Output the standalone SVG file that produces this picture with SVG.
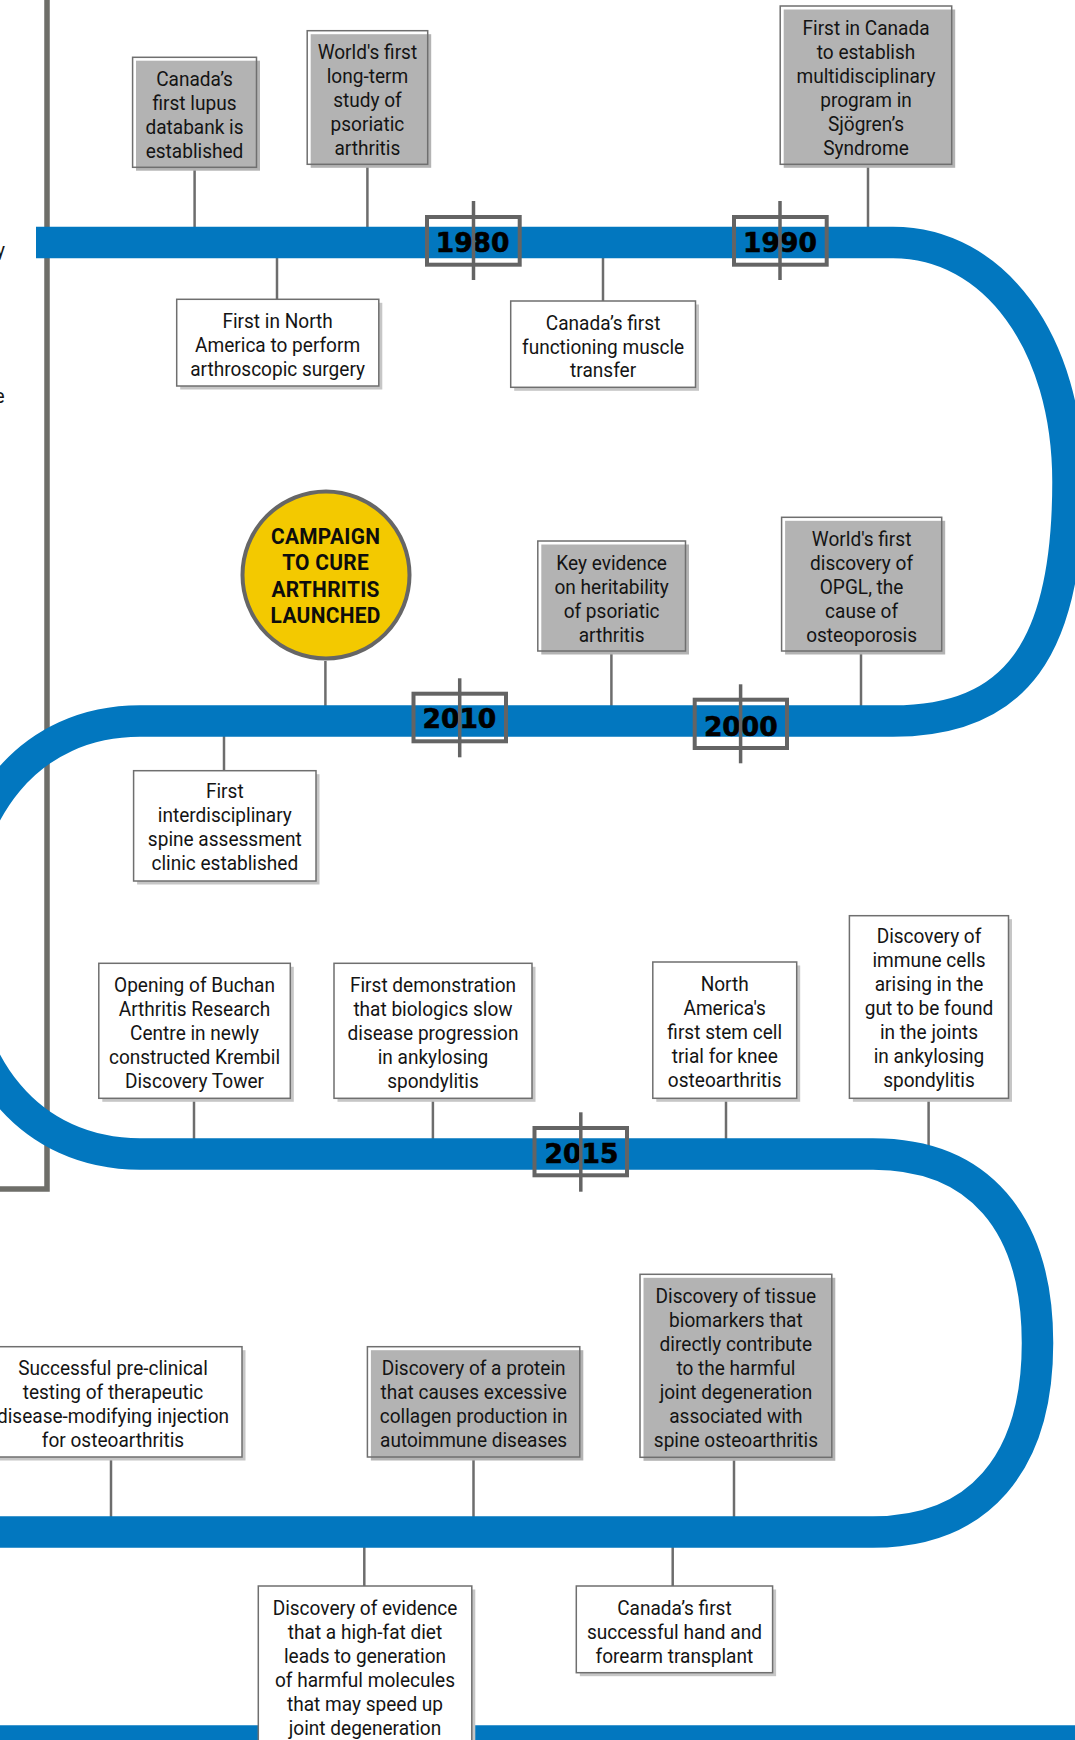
<svg xmlns="http://www.w3.org/2000/svg" width="1075" height="1740" viewBox="0 0 1075 1740">
<style>
.band{fill:none;stroke:#0277bf;stroke-width:31.5;stroke-linecap:butt;stroke-linejoin:round}
.bracket{fill:none;stroke:#6e6e69;stroke-width:5.5;stroke-linejoin:miter}
.conn{stroke:#6d6d6d;stroke-width:2.5;fill:none}
.gfill{fill:#b3b3b3}
.gline{fill:none;stroke:#6f6f6f;stroke-width:1.5}
.wshadow{fill:#c6c6c6}
.wbox{fill:#ffffff;stroke:#6f6f6f;stroke-width:1.5}
.t{font-family:Roboto,'Liberation Sans',sans-serif;font-size:20.5px;fill:#141414;text-anchor:middle}
.ct{font-family:Roboto,'Liberation Sans',sans-serif;font-size:22.5px;font-weight:bold;fill:#0d0d0d;text-anchor:middle;letter-spacing:0.3px}
.ybox{fill:none;stroke:#646464;stroke-width:4}
.tick{stroke:#646464;stroke-width:3.5}
.yt{font-family:'DejaVu Sans',sans-serif;font-size:26.5px;font-weight:bold;fill:#000;text-anchor:middle;stroke:#000;stroke-width:0.6}
.circle{fill:#f3c900;stroke:#666666;stroke-width:4}
</style>

<g id="bracket">
<polyline class="bracket" points="47,-5 47,1189 -5,1189"/>
<text class="t" style="text-anchor:end" transform="translate(5,0) scale(0.93,1)" x="0" y="257.5">y</text>
<text class="t" style="text-anchor:end" transform="translate(4.5,0) scale(0.93,1)" x="0" y="403">e</text>
</g>

<g id="connectors">
<line class="conn" x1="194.6" y1="167" x2="194.6" y2="240"/>
<line class="conn" x1="367.4" y1="164" x2="367.4" y2="240"/>
<line class="conn" x1="868" y1="164" x2="868" y2="240"/>
<line class="conn" x1="277" y1="245" x2="277" y2="299"/>
<line class="conn" x1="603" y1="245" x2="603" y2="301"/>
<line class="conn" x1="325.4" y1="661" x2="325.4" y2="715"/>
<line class="conn" x1="611.4" y1="651" x2="611.4" y2="715"/>
<line class="conn" x1="861" y1="651" x2="861" y2="715"/>
<line class="conn" x1="224" y1="728" x2="224" y2="771"/>
<line class="conn" x1="194" y1="1098" x2="194" y2="1150"/>
<line class="conn" x1="432.9" y1="1098" x2="432.9" y2="1150"/>
<line class="conn" x1="726" y1="1098" x2="726" y2="1150"/>
<line class="conn" x1="928.6" y1="1098" x2="928.6" y2="1160"/>
<line class="conn" x1="111" y1="1457" x2="111" y2="1525"/>
<line class="conn" x1="473.5" y1="1457" x2="473.5" y2="1525"/>
<line class="conn" x1="734" y1="1457" x2="734" y2="1525"/>
<line class="conn" x1="364.3" y1="1540" x2="364.3" y2="1586"/>
<line class="conn" x1="672.7" y1="1540" x2="672.7" y2="1586"/>
</g>

<g id="timeline">
<path class="band" d="M36,242.5 H893 C994.5,242.5 1068,343 1068,482 C1068,649.3 1015.5,721 893,721 H140 C30.8,721 -42,807.6 -42,937.5 C-42,1067.4 30.8,1154 140,1154 H873 C978.3,1154 1037.5,1222 1037.5,1343 C1037.5,1464 978.3,1532 873,1532 H-20"/>
<path class="band" d="M-20,1741 H1095"/>
</g>

<g id="y1980">
<rect class="ybox" x="427" y="217" width="92.7" height="47.7"/>
<text class="yt" x="472.6" y="252.3">1980</text>
<line class="tick" x1="473.5" y1="201" x2="473.5" y2="280"/>
</g>
<g id="y1990">
<rect class="ybox" x="734" y="217" width="92.7" height="47.7"/>
<text class="yt" x="780" y="252.3">1990</text>
<line class="tick" x1="780" y1="201" x2="780" y2="280"/>
</g>
<g id="y2010">
<rect class="ybox" x="413.5" y="693.7" width="92.5" height="47.6"/>
<text class="yt" x="459.4" y="728.3">2010</text>
<line class="tick" x1="459.7" y1="678.3" x2="459.7" y2="757.3"/>
</g>
<g id="y2000">
<rect class="ybox" x="694.7" y="699.7" width="92.3" height="48.3"/>
<text class="yt" x="740.8" y="736">2000</text>
<line class="tick" x1="740.6" y1="684.3" x2="740.6" y2="763.3"/>
</g>
<g id="y2015">
<rect class="ybox" x="534.5" y="1128" width="92.5" height="47.3"/>
<text class="yt" x="581.5" y="1163.3">2015</text>
<line class="tick" x1="580.8" y1="1112.3" x2="580.8" y2="1191.7"/>
</g>

<g id="n-lupus">
<rect class="gfill" x="136" y="60.7" width="124" height="110"/>
<rect class="gline" x="132.6" y="57.3" width="123.9" height="110"/>
<text class="t" transform="translate(194.5,0) scale(0.93,1)"><tspan x="0" y="86">Canada’s</tspan><tspan x="0" y="110">first lupus</tspan><tspan x="0" y="134">databank is</tspan><tspan x="0" y="158">established</tspan></text>
</g>

<g id="n-psoriatic-study">
<rect class="gfill" x="310.7" y="34.2" width="120.5" height="133.6"/>
<rect class="gline" x="307.2" y="30.7" width="120.5" height="133.6"/>
<text class="t" transform="translate(367.4,0) scale(0.93,1)"><tspan x="0" y="59.3">World's first</tspan><tspan x="0" y="83.3">long-term</tspan><tspan x="0" y="107.3">study of</tspan><tspan x="0" y="131.3">psoriatic</tspan><tspan x="0" y="155.3">arthritis</tspan></text>
</g>

<g id="n-sjogren">
<rect class="gfill" x="783.7" y="9.5" width="171.5" height="158.3"/>
<rect class="gline" x="780.2" y="6" width="171.5" height="158.3"/>
<text class="t" transform="translate(866,0) scale(0.93,1)"><tspan x="0" y="35">First in Canada</tspan><tspan x="0" y="59">to establish</tspan><tspan x="0" y="83">multidisciplinary</tspan><tspan x="0" y="107">program in</tspan><tspan x="0" y="131">Sjögren’s</tspan><tspan x="0" y="155">Syndrome</tspan></text>
</g>

<g id="n-arthroscopic">
<rect class="wshadow" x="180.2" y="302.8" width="202.1" height="86.7"/>
<rect class="wbox" x="176.7" y="299.3" width="202.1" height="86.7"/>
<text class="t" transform="translate(277.6,0) scale(0.93,1)"><tspan x="0" y="328.3">First in North</tspan><tspan x="0" y="352.3">America to perform</tspan><tspan x="0" y="376.3">arthroscopic surgery</tspan></text>
</g>

<g id="n-muscle">
<rect class="wshadow" x="514.2" y="304.5" width="184.8" height="86.3"/>
<rect class="wbox" x="510.7" y="301" width="184.8" height="86.3"/>
<text class="t" transform="translate(603.1,0) scale(0.93,1)"><tspan x="0" y="330">Canada’s first</tspan><tspan x="0" y="353.7">functioning muscle</tspan><tspan x="0" y="377.3">transfer</tspan></text>
</g>

<g id="n-campaign">
<circle class="circle" cx="326" cy="575" r="83.5"/>
<text class="ct" transform="translate(325.6,0) scale(0.93,1)"><tspan x="0" y="544">CAMPAIGN</tspan><tspan x="0" y="570.3">TO CURE</tspan><tspan x="0" y="596.7">ARTHRITIS</tspan><tspan x="0" y="623">LAUNCHED</tspan></text>
</g>

<g id="n-heritability">
<rect class="gfill" x="541.3" y="544.5" width="147.7" height="110"/>
<rect class="gline" x="537.8" y="541" width="147.7" height="110"/>
<text class="t" transform="translate(611.6,0) scale(0.93,1)"><tspan x="0" y="570.5">Key evidence</tspan><tspan x="0" y="594.3">on heritability</tspan><tspan x="0" y="618.2">of psoriatic</tspan><tspan x="0" y="642">arthritis</tspan></text>
</g>

<g id="n-opgl">
<rect class="gfill" x="785.1" y="520.8" width="160.1" height="133.7"/>
<rect class="gline" x="781.6" y="517.3" width="160.1" height="133.7"/>
<text class="t" transform="translate(861.6,0) scale(0.93,1)"><tspan x="0" y="546">World's first</tspan><tspan x="0" y="570">discovery of</tspan><tspan x="0" y="594">OPGL, the</tspan><tspan x="0" y="618">cause of</tspan><tspan x="0" y="642">osteoporosis</tspan></text>
</g>

<g id="n-spine-clinic">
<rect class="wshadow" x="137.1" y="774.2" width="182.4" height="110.3"/>
<rect class="wbox" x="133.6" y="770.7" width="182.4" height="110.3"/>
<text class="t" transform="translate(224.8,0) scale(0.93,1)"><tspan x="0" y="798">First</tspan><tspan x="0" y="822">interdisciplinary</tspan><tspan x="0" y="846.5">spine assessment</tspan><tspan x="0" y="870.5">clinic established</tspan></text>
</g>

<g id="n-buchan">
<rect class="wshadow" x="102.3" y="966.8" width="191.5" height="135"/>
<rect class="wbox" x="98.8" y="963.3" width="191.5" height="135"/>
<text class="t" transform="translate(194.5,0) scale(0.93,1)"><tspan x="0" y="991.7">Opening of Buchan</tspan><tspan x="0" y="1015.7">Arthritis Research</tspan><tspan x="0" y="1039.7">Centre in newly</tspan><tspan x="0" y="1063.7">constructed Krembil</tspan><tspan x="0" y="1087.7">Discovery Tower</tspan></text>
</g>

<g id="n-biologics">
<rect class="wshadow" x="337.5" y="966.8" width="198" height="135"/>
<rect class="wbox" x="334" y="963.3" width="198" height="135"/>
<text class="t" transform="translate(433,0) scale(0.93,1)"><tspan x="0" y="991.7">First demonstration</tspan><tspan x="0" y="1015.7">that biologics slow</tspan><tspan x="0" y="1039.7">disease progression</tspan><tspan x="0" y="1063.7">in ankylosing</tspan><tspan x="0" y="1087.7">spondylitis</tspan></text>
</g>

<g id="n-stem-cell">
<rect class="wshadow" x="656.3" y="965.5" width="143.9" height="136.3"/>
<rect class="wbox" x="652.8" y="962" width="143.9" height="136.3"/>
<text class="t" transform="translate(724.7,0) scale(0.93,1)"><tspan x="0" y="990.7">North</tspan><tspan x="0" y="1014.7">America's</tspan><tspan x="0" y="1038.7">first stem cell</tspan><tspan x="0" y="1062.7">trial for knee</tspan><tspan x="0" y="1086.7">osteoarthritis</tspan></text>
</g>

<g id="n-immune-cells">
<rect class="wshadow" x="852.9" y="919.2" width="159.1" height="182.6"/>
<rect class="wbox" x="849.4" y="915.7" width="159.1" height="182.6"/>
<text class="t" transform="translate(929,0) scale(0.93,1)"><tspan x="0" y="943.3">Discovery of</tspan><tspan x="0" y="967.3">immune cells</tspan><tspan x="0" y="991.3">arising in the</tspan><tspan x="0" y="1015.3">gut to be found</tspan><tspan x="0" y="1039.3">in the joints</tspan><tspan x="0" y="1063.3">in ankylosing</tspan><tspan x="0" y="1087.3">spondylitis</tspan></text>
</g>

<g id="n-injection">
<rect class="wshadow" x="-12.5" y="1350.2" width="258" height="110.3"/>
<rect class="wbox" x="-16" y="1346.7" width="258" height="110.3"/>
<text class="t" transform="translate(113,0) scale(0.93,1)"><tspan x="0" y="1375">Successful pre-clinical</tspan><tspan x="0" y="1399">testing of therapeutic</tspan><tspan x="0" y="1423">disease-modifying injection</tspan><tspan x="0" y="1447">for osteoarthritis</tspan></text>
</g>

<g id="n-collagen">
<rect class="gfill" x="370.9" y="1350.2" width="212.4" height="110.3"/>
<rect class="gline" x="367.4" y="1346.7" width="212.4" height="110.3"/>
<text class="t" transform="translate(473.6,0) scale(0.93,1)"><tspan x="0" y="1375">Discovery of a protein</tspan><tspan x="0" y="1399">that causes excessive</tspan><tspan x="0" y="1423">collagen production in</tspan><tspan x="0" y="1447">autoimmune diseases</tspan></text>
</g>

<g id="n-biomarkers">
<rect class="gfill" x="643.5" y="1277.8" width="191.8" height="183"/>
<rect class="gline" x="640" y="1274.3" width="191.8" height="183"/>
<text class="t" transform="translate(735.9,0) scale(0.93,1)"><tspan x="0" y="1302.7">Discovery of tissue</tspan><tspan x="0" y="1326.7">biomarkers that</tspan><tspan x="0" y="1350.7">directly contribute</tspan><tspan x="0" y="1374.7">to the harmful</tspan><tspan x="0" y="1398.7">joint degeneration</tspan><tspan x="0" y="1422.7">associated with</tspan><tspan x="0" y="1446.7">spine osteoarthritis</tspan></text>
</g>

<g id="n-high-fat">
<rect class="wshadow" x="261.8" y="1589.5" width="213.5" height="180"/>
<rect class="wbox" x="258.3" y="1586" width="213.5" height="180"/>
<text class="t" transform="translate(365,0) scale(0.93,1)"><tspan x="0" y="1615">Discovery of evidence</tspan><tspan x="0" y="1639">that a high-fat diet</tspan><tspan x="0" y="1663">leads to generation</tspan><tspan x="0" y="1687">of harmful molecules</tspan><tspan x="0" y="1711">that may speed up</tspan><tspan x="0" y="1735">joint degeneration</tspan></text>
</g>

<g id="n-hand-transplant">
<rect class="wshadow" x="579.8" y="1589.5" width="196.3" height="86.7"/>
<rect class="wbox" x="576.3" y="1586" width="196.3" height="86.7"/>
<text class="t" transform="translate(674.4,0) scale(0.93,1)"><tspan x="0" y="1615">Canada’s first</tspan><tspan x="0" y="1639">successful hand and</tspan><tspan x="0" y="1663">forearm transplant</tspan></text>
</g>
</svg>
